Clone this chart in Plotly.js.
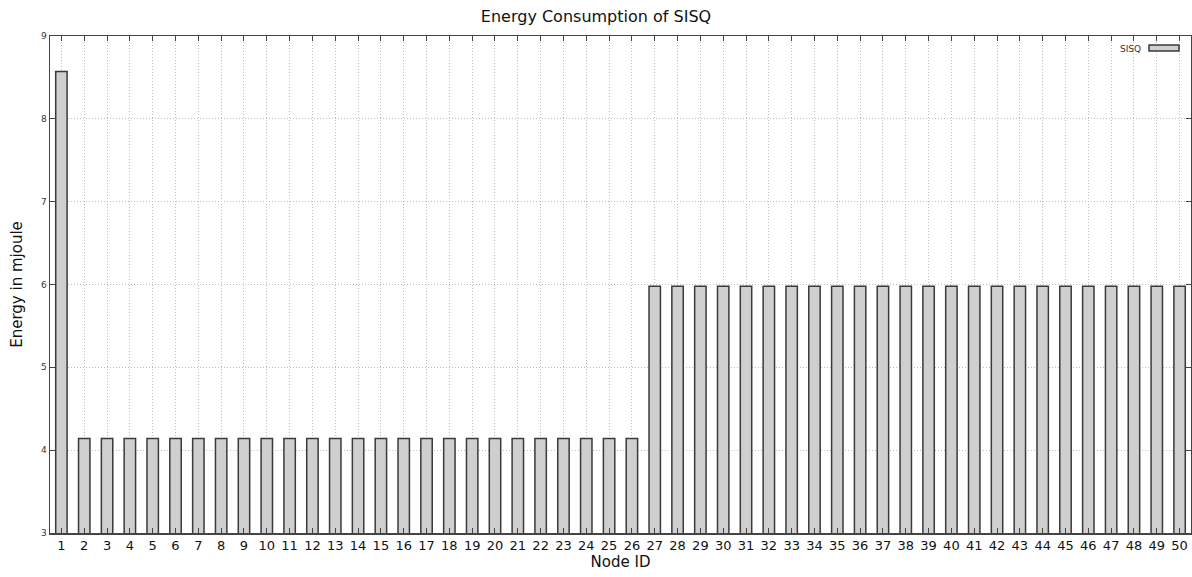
<!DOCTYPE html>
<html>
<head>
<meta charset="utf-8">
<script src="https://cdn.plot.ly/plotly-3.0.1.min.js"></script>
<style>
html,body{margin:0;padding:0;background:#fff;}
#chart{width:1192px;height:577px;}
</style>
</head>
<body>
<div id="chart"></div>
<script>
var nodeIds = [];
for (var i = 1; i <= 50; i++) nodeIds.push(i);
var energy = [
  8.57,
  4.14, 4.14, 4.14, 4.14, 4.14, 4.14, 4.14, 4.14, 4.14, 4.14,
  4.14, 4.14, 4.14, 4.14, 4.14, 4.14, 4.14, 4.14, 4.14, 4.14,
  4.14, 4.14, 4.14, 4.14, 4.14,
  5.98, 5.98, 5.98, 5.98, 5.98, 5.98, 5.98, 5.98, 5.98, 5.98,
  5.98, 5.98, 5.98, 5.98, 5.98, 5.98, 5.98, 5.98, 5.98, 5.98,
  5.98, 5.98, 5.98, 5.98
];
var yTicks = [3, 4, 5, 6, 7, 8, 9];
var seriesName = 'SISQ';

var font = 'DejaVu Sans, Verdana, sans-serif';
var trace = {
  type: 'bar',
  x: nodeIds,
  y: energy,
  name: seriesName,
  width: 0.5,
  marker: {color: '#cfcfcf', line: {color: '#3a3a3a', width: 1.5}},
  showlegend: false,
  hoverinfo: 'x+y'
};

var layout = {
  width: 1192, height: 577,
  margin: {l: 50, r: 1, t: 36, b: 44},
  paper_bgcolor: '#fff', plot_bgcolor: '#fff',
  title: {text: 'Energy Consumption of SISQ', font: {family: font, size: 16, color: '#111'},
          x: 0.5, xanchor: 'center', y: 0.972, yanchor: 'middle'},
  font: {family: font, color: '#222'},
  xaxis: {
    range: [0.5, 50.5],
    tickvals: nodeIds,
    ticktext: nodeIds.map(String),
    tickfont: {family: font, size: 13, color: '#111'},
    ticks: 'inside', ticklen: 5, tickcolor: '#444',
    showline: true, linecolor: '#444', linewidth: 1.5, mirror: 'ticks',
    showgrid: true, gridcolor: '#bdbdbd', griddash: '1px,2px', gridwidth: 1,
    zeroline: false,
    title: {text: 'Node ID', font: {family: font, size: 15, color: '#111'}, standoff: 4}
  },
  yaxis: {
    range: [3, 9],
    tickvals: yTicks,
    ticktext: yTicks.map(String),
    tickfont: {family: font, size: 9, color: '#333'},
    ticks: 'inside', ticklen: 5, tickcolor: '#444',
    showline: true, linecolor: '#444', linewidth: 1.5, mirror: 'ticks',
    showgrid: true, gridcolor: '#bdbdbd', griddash: '1px,2px', gridwidth: 1,
    zeroline: false,
    title: {text: 'Energy in mjoule', font: {family: font, size: 15, color: '#111'}, standoff: 14}
  },
  shapes: [{
    type: 'rect', xref: 'paper', yref: 'paper',
    x0: 0.9632, x1: 0.9895, y0: 0.9698, y1: 0.9819,
    fillcolor: '#cfcfcf', line: {color: '#3a3a3a', width: 1.5}
  }],
  annotations: [{
    text: seriesName, xref: 'paper', yref: 'paper',
    x: 0.9577, y: 0.9745, xanchor: 'right', yanchor: 'middle',
    showarrow: false, font: {family: font, size: 9, color: '#333'}
  }],
  bargap: 0
};

Plotly.newPlot('chart', [trace], layout, {displayModeBar: false, staticPlot: true});
</script>
</body>
</html>
